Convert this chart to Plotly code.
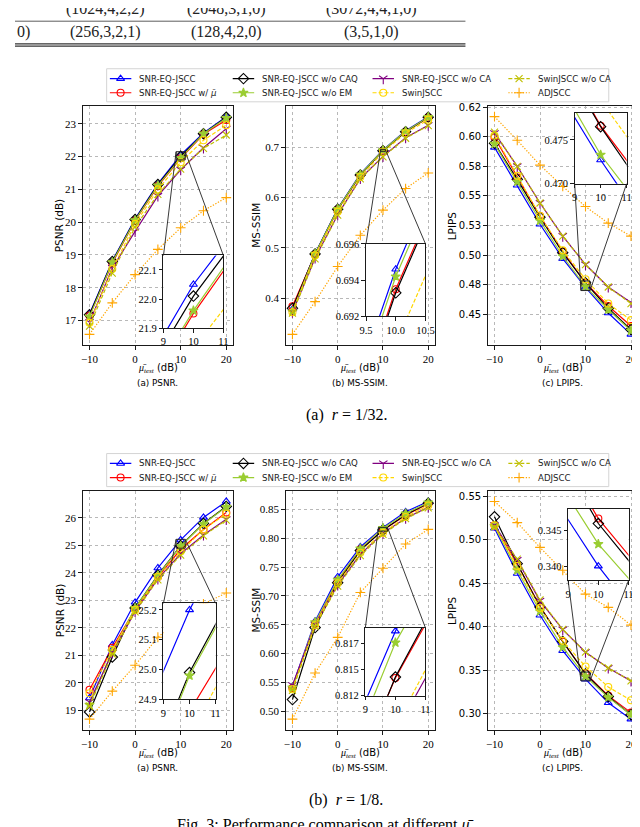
import plotly.graph_objects as go

W, H = 640, 827

# ---------------- data ----------------
snr_db = [-10, -5, 0, 5, 10, 15, 20]

series_keys = ["snreq", "snreq_mu", "wo_caq", "wo_em", "wo_ca", "swin", "swin_wo_ca", "adjscc"]
series_labels = ["SNR-EQ-JSCC", "SNR-EQ-JSCC w/ <i>μ̄</i>", "SNR-EQ-JSCC w/o CAQ", "SNR-EQ-JSCC w/o EM",
                 "SNR-EQ-JSCC w/o CA", "SwinJSCC", "SwinJSCC w/o CA", "ADJSCC"]

# r = 1/32
psnr_r32 = {
    "snreq":      [17.20, 18.82, 20.10, 21.17, 22.05, 22.72, 23.22],
    "snreq_mu":   [17.15, 18.75, 20.05, 21.10, 21.95, 22.68, 23.12],
    "wo_caq":     [17.18, 18.80, 20.08, 21.15, 22.01, 22.70, 23.20],
    "wo_em":      [17.12, 18.78, 20.06, 21.12, 21.96, 22.70, 23.18],
    "wo_ca":      [16.95, 18.60, 19.72, 20.80, 21.60, 22.27, 22.85],
    "swin":       [16.93, 18.57, 19.95, 21.00, 21.83, 22.50, 22.96],
    "swin_wo_ca": [16.83, 18.45, 19.85, 20.85, 21.62, 22.25, 22.66],
    "adjscc":     [16.58, 17.54, 18.40, 19.17, 19.83, 20.35, 20.75],
}
msssim_r32 = {
    "snreq":      [0.378, 0.489, 0.578, 0.647, 0.6946, 0.733, 0.761],
    "snreq_mu":   [0.384, 0.487, 0.576, 0.645, 0.6935, 0.731, 0.759],
    "wo_caq":     [0.380, 0.488, 0.577, 0.645, 0.6933, 0.731, 0.760],
    "wo_em":      [0.374, 0.488, 0.577, 0.646, 0.6942, 0.732, 0.760],
    "wo_ca":      [0.372, 0.480, 0.566, 0.638, 0.682, 0.719, 0.744],
    "swin":       [0.372, 0.485, 0.572, 0.641, 0.6905, 0.728, 0.755],
    "swin_wo_ca": [0.370, 0.478, 0.565, 0.637, 0.681, 0.718, 0.743],
    "adjscc":     [0.328, 0.393, 0.463, 0.525, 0.575, 0.618, 0.649],
}
lpips_r32 = {
    "snreq":      [0.591, 0.559, 0.526, 0.497, 0.4727, 0.451, 0.433],
    "snreq_mu":   [0.5994, 0.5656, 0.533, 0.503, 0.4766, 0.457, 0.440],
    "wo_caq":     [0.5944, 0.564, 0.532, 0.502, 0.4765, 0.455, 0.437],
    "wo_em":      [0.594, 0.562, 0.529, 0.499, 0.4733, 0.454, 0.436],
    "wo_ca":      [0.603, 0.575, 0.544, 0.516, 0.492, 0.473, 0.460],
    "swin":       [0.601, 0.567, 0.533, 0.504, 0.4795, 0.459, 0.445],
    "swin_wo_ca": [0.604, 0.575, 0.544, 0.516, 0.492, 0.473, 0.459],
    "adjscc":     [0.617, 0.597, 0.576, 0.558, 0.541, 0.527, 0.516],
}
# r = 1/8
psnr_r8 = {
    "snreq":      [19.45, 21.38, 22.93, 24.18, 25.20, 26.02, 26.60],
    "snreq_mu":   [19.75, 21.28, 22.68, 23.85, 24.86, 25.58, 26.20],
    "wo_caq":     [18.94, 20.94, 22.72, 23.92, 24.99, 25.80, 26.42],
    "wo_em":      [19.20, 21.15, 22.72, 23.90, 24.98, 25.78, 26.40],
    "wo_ca":      [19.30, 21.10, 22.60, 23.78, 24.70, 25.38, 25.95],
    "swin":       [19.62, 21.20, 22.65, 23.85, 24.78, 25.58, 26.15],
    "swin_wo_ca": [19.15, 21.05, 22.58, 23.75, 24.65, 25.35, 25.92],
    "adjscc":     [18.68, 19.70, 20.64, 21.66, 22.35, 22.87, 23.27],
}
msssim_r8 = {
    "snreq":      [0.543, 0.656, 0.733, 0.785, 0.8187, 0.846, 0.864],
    "snreq_mu":   [0.540, 0.652, 0.726, 0.781, 0.8142, 0.840, 0.860],
    "wo_caq":     [0.520, 0.645, 0.723, 0.779, 0.8143, 0.841, 0.861],
    "wo_em":      [0.541, 0.654, 0.728, 0.782, 0.8176, 0.843, 0.862],
    "wo_ca":      [0.545, 0.650, 0.719, 0.772, 0.809, 0.835, 0.854],
    "swin":       [0.538, 0.649, 0.722, 0.775, 0.8095, 0.837, 0.857],
    "swin_wo_ca": [0.536, 0.647, 0.717, 0.770, 0.807, 0.834, 0.853],
    "adjscc":     [0.486, 0.566, 0.628, 0.706, 0.748, 0.790, 0.8155],
}
lpips_r8 = {
    "snreq":      [0.5135, 0.4614, 0.4135, 0.3727, 0.3400, 0.3128, 0.2940],
    "snreq_mu":   [0.517, 0.472, 0.4237, 0.3830, 0.3467, 0.3210, 0.3015],
    "wo_caq":     [0.5266, 0.4727, 0.4230, 0.3834, 0.3460, 0.3200, 0.2990],
    "wo_em":      [0.516, 0.4652, 0.418, 0.3766, 0.3431, 0.3190, 0.2990],
    "wo_ca":      [0.517, 0.477, 0.430, 0.397, 0.371, 0.3528, 0.3380],
    "swin":       [0.5168, 0.470, 0.4218, 0.384, 0.3546, 0.331, 0.3158],
    "swin_wo_ca": [0.515, 0.478, 0.4312, 0.3973, 0.371, 0.3528, 0.3380],
    "adjscc":     [0.5443, 0.520, 0.4915, 0.4652, 0.4377, 0.4225, 0.4021],
}

# tick labels
x_ticks = [-10, 0, 10, 20]
psnr_r32_ticks = [17, 18, 19, 20, 21, 22, 23]
msssim_r32_ticks = [0.4, 0.5, 0.6, 0.7]
msssim_r32_text = ["0.4", "0.5", "0.6", "0.7"]
lpips_r32_ticks = [0.45, 0.475, 0.5, 0.525, 0.55, 0.575, 0.6, 0.625]
lpips_r32_text = ["0.45", "0.48", "0.50", "0.53", "0.55", "0.58", "0.60", "0.62"]
psnr_r8_ticks = [19, 20, 21, 22, 23, 24, 25, 26, 27]
msssim_r8_ticks = [0.50, 0.55, 0.60, 0.65, 0.70, 0.75, 0.80, 0.85]
msssim_r8_text = ["0.50", "0.55", "0.60", "0.65", "0.70", "0.75", "0.80", "0.85"]
lpips_r8_ticks = [0.30, 0.35, 0.40, 0.45, 0.50, 0.55]
lpips_r8_text = ["0.30", "0.35", "0.40", "0.45", "0.50", "0.55"]

# zoomed windows (inset axis limits) and their tick labels
inset_x_range = [[(9, 11), (9.5, 10.5), (9, 11)], [(9, 11), (9, 11), (9, 11)]]
inset_y_range = [[(21.9, 22.15), (0.692, 0.696), (0.470, 0.4781)],
                 [(24.9, 25.222), (0.8125, 0.8190), (0.338, 0.3481)]]
inset_x_ticks = [[[9, 10, 11], [9.5, 10.0, 10.5], [9, 10, 11]], [[9, 10, 11]] * 3]
inset_x_text = [[["9", "10", "11"], ["9.5", "10.0", "10.5"], ["9", "10", "11"]], [["9", "10", "11"]] * 3]
inset_y_ticks = [[[21.9, 22.0, 22.1], [0.692, 0.694, 0.696], [0.470, 0.475]],
                 [[24.9, 25.0, 25.1, 25.2], [0.8125, 0.815, 0.8175], [0.340, 0.345]]]
inset_y_text = [[["21.9", "22.0", "22.1"], ["0.692", "0.694", "0.696"], ["0.470", "0.475"]],
                [["24.9", "25.0", "25.1", "25.2"], ["0.812", "0.815", "0.817"], ["0.340", "0.345"]]]

table_row_text = ["0)", "(256,3,2,1)", "(128,4,2,0)", "(3,5,1,0)"]
table_prev_text = ["(1024,4,2,2)", "(2048,3,1,0)", "(3072,4,4,1,0)"]

# ---------------- styles ----------------
styles = {
    "snreq":      dict(color="#0000ff", symbol="triangle-up-open", dash="solid", size=7),
    "snreq_mu":   dict(color="#ff0000", symbol="circle-open", dash="solid", size=7),
    "wo_caq":     dict(color="#000000", symbol="diamond-open", dash="solid", size=8),
    "wo_em":      dict(color="#9acd32", symbol="star", dash="solid", size=7),
    "wo_ca":      dict(color="#800080", symbol="y-down-open", dash="solid", size=7),
    "swin":       dict(color="#ffd700", symbol="circle-open", dash="4px,2px", size=7),
    "swin_wo_ca": dict(color="#bfbf00", symbol="x-thin-open", dash="4px,2px", size=7),
    "adjscc":     dict(color="#ffa500", symbol="cross-thin-open", dash="1.3px,1.6px", size=7),
}

SERIF = "Liberation Serif"
SANS = "DejaVu Sans"

COLS = [(69.4, 223.7), (277.6, 430.8), (484.8, 638.8)]
ROWS = [(94.0, 336.7), (484.0, 726.7)]
INSETS = [[(152.3, 213.7, 245.7, 319.3), (360.0, 421.0, 234.0, 307.5), (574.0, 627.3, 101.0, 173.0)],
          [(152.3, 205.7, 598.3, 695.7), (359.3, 421.0, 623.3, 692.0), (567.3, 629.3, 502.3, 575.0)]]
X_RANGE = [-11.5, 21.5]

panels = [[psnr_r32, msssim_r32, lpips_r32], [psnr_r8, msssim_r8, lpips_r8]]
yticks = [[(psnr_r32_ticks, [str(v) for v in psnr_r32_ticks]), (msssim_r32_ticks, msssim_r32_text),
           (lpips_r32_ticks, lpips_r32_text)],
          [(psnr_r8_ticks, [str(v) for v in psnr_r8_ticks]), (msssim_r8_ticks, msssim_r8_text),
           (lpips_r8_ticks, lpips_r8_text)]]
ytitles = ["PSNR (dB)", "MS-SSIM", "LPIPS"]
subcaps = ["(a) PSNR.", "(b) MS-SSIM.", "(c) LPIPS."]

fig = go.Figure()
layout = {}
shapes = []
annotations = []


def pfx(px):
    return px / W


def pfy(py):
    return 1 - py / H


def axis_common(grid):
    return dict(showline=True, linecolor="#1a1a1a", linewidth=1.1, mirror=True, ticks="outside",
                ticklen=3.5, tickwidth=0.8, tickcolor="#1a1a1a", zeroline=False, showgrid=grid,
                gridcolor="#b8b8b8", gridwidth=0.8, griddash="dot", fixedrange=True)


def add_axes(idx, xpx, ypx, xr, yr, xt, xtt, yt, ytt, xfont, yfont, grid):
    key = "" if idx == 1 else str(idx)
    xa = axis_common(grid)
    xa.update(domain=[pfx(xpx[0]), pfx(xpx[1])], range=list(xr), anchor="y" + key,
              tickmode="array", tickvals=xt, ticktext=xtt, tickfont=xfont)
    ya = axis_common(grid)
    ya.update(domain=[pfy(ypx[1]), pfy(ypx[0])], range=list(yr), anchor="x" + key,
              tickmode="array", tickvals=yt, ticktext=ytt, tickfont=yfont)
    layout["xaxis" + key] = xa
    layout["yaxis" + key] = ya
    return "x" + key, "y" + key


def add_series(data, xref, yref):
    for k in series_keys:
        st = styles[k]
        fig.add_trace(go.Scatter(
            x=snr_db, y=data[k], xaxis=xref, yaxis=yref, mode="lines+markers",
            line=dict(color=st["color"], width=1.2, dash=st["dash"]),
            marker=dict(symbol=st["symbol"], size=st["size"], color=st["color"],
                        line=dict(color=st["color"], width=1.1)),
            showlegend=False, hoverinfo="skip"))


def to_px(v, r, p0, p1, invert=False):
    f = (v - r[0]) / (r[1] - r[0])
    return (p1 - f * (p1 - p0)) if invert else (p0 + f * (p1 - p0))


serif_tick = dict(family=SERIF, size=11, color="black")
sans_tick = dict(family=SANS, size=10, color="black")
inset_tick = dict(family=SERIF, size=10.5, color="black")

# main axes
idx = 0
main_refs = {}
main_yr = {}
for r in range(2):
    for c in range(3):
        idx += 1
        data = panels[r][c]
        allv = [v for k in series_keys for v in data[k]]
        lo, hi = min(allv), max(allv)
        pad = 0.05 * (hi - lo)
        yr = (lo - pad, hi + pad)
        main_yr[(r, c)] = yr
        yt, ytt = yticks[r][c]
        xr_, yr_ = add_axes(idx, COLS[c], ROWS[r], X_RANGE, yr, x_ticks, [str(v).replace("-", "−") for v in x_ticks],
                            yt, ytt, serif_tick, sans_tick if c == 2 else serif_tick, True)
        main_refs[(r, c)] = (xr_, yr_)
        add_series(data, xr_, yr_)

# insets
for r in range(2):
    for c in range(3):
        idx += 1
        ix0, ix1, iy0, iy1 = INSETS[r][c]
        xr = inset_x_range[r][c]
        yr = inset_y_range[r][c]
        xref, yref = add_axes(idx, (ix0, ix1), (iy0, iy1), xr, yr, inset_x_ticks[r][c], inset_x_text[r][c],
                              inset_y_ticks[r][c], inset_y_text[r][c], inset_tick, inset_tick, False)
        add_series(panels[r][c], xref, yref)
        # zoom rectangle on main axes
        mx, my = main_refs[(r, c)]
        shapes.append(dict(type="rect", xref=mx, yref=my, x0=xr[0], x1=xr[1], y0=yr[0], y1=yr[1],
                           line=dict(color="#222222", width=1), layer="above"))
        # connectors
        (cx0, cx1), (ry0, ry1) = COLS[c], ROWS[r]
        myr = main_yr[(r, c)]
        rx0 = to_px(xr[0], X_RANGE, cx0, cx1)
        rx1 = to_px(xr[1], X_RANGE, cx0, cx1)
        r_top = to_px(yr[1], myr, ry0, ry1, invert=True)
        r_bot = to_px(yr[0], myr, ry0, ry1, invert=True)
        if c < 2:
            pairs = [((rx0, r_top), (ix0, iy0)), ((rx1, r_top), (ix1, iy0))]
        else:
            pairs = [((rx0, r_bot), (ix0, iy1)), ((rx1, r_bot), (ix1, iy1))]
        for (a, b) in pairs:
            shapes.append(dict(type="line", xref="paper", yref="paper", x0=pfx(a[0]), y0=pfy(a[1]),
                               x1=pfx(b[0]), y1=pfy(b[1]), line=dict(color="#222222", width=0.9),
                               layer="above"))

# legends (drawn manually, matplotlib-like compact 4x2 layout)
LEG_BOX = [(94.0, 56.5, 609.0, 90.0), (94.0, 446.5, 609.0, 480.0)]
LEG_ROWS = [(66.5, 80.8), (456.5, 470.8)]
LEG_COLS = [97.3, 223.3, 366.7, 506.0]
LEG_ORDER = [["snreq", "snreq_mu"], ["wo_caq", "wo_em"], ["wo_ca", "swin"], ["swin_wo_ca", "adjscc"]]
for li in range(2):
    idx += 1
    bx0, by0, bx1, by1 = LEG_BOX[li]
    key = str(idx)
    layout["xaxis" + key] = dict(domain=[pfx(bx0), pfx(bx1)], range=[bx0, bx1], visible=False,
                                 anchor="y" + key, fixedrange=True)
    layout["yaxis" + key] = dict(domain=[pfy(by1), pfy(by0)], range=[by1, by0], visible=False,
                                 anchor="x" + key, fixedrange=True)
    shapes.append(dict(type="rect", xref="paper", yref="paper", x0=pfx(bx0), x1=pfx(bx1), y0=pfy(by1),
                       y1=pfy(by0), line=dict(color="#d4d4d4", width=1), fillcolor="rgba(255,255,255,0)",
                       layer="below"))
    for ci, col in enumerate(LEG_ORDER):
        for ri, k in enumerate(col):
            st = styles[k]
            y = LEG_ROWS[li][ri]
            x0 = LEG_COLS[ci]
            fig.add_trace(go.Scatter(x=[x0, x0 + 22], y=[y, y], xaxis="x" + key, yaxis="y" + key,
                                     mode="lines", line=dict(color=st["color"], width=1.2, dash=st["dash"]),
                                     showlegend=False, hoverinfo="skip"))
            fig.add_trace(go.Scatter(x=[x0 + 11], y=[y], xaxis="x" + key, yaxis="y" + key, mode="markers",
                                     marker=dict(symbol=st["symbol"], size=st["size"], color=st["color"],
                                                 line=dict(color=st["color"], width=1.1)),
                                     showlegend=False, hoverinfo="skip"))
            annotations.append(dict(text=series_labels[series_keys.index(k)], xref="paper", yref="paper",
                                    x=pfx(x0 + 28), y=pfy(y), xanchor="left", yanchor="middle",
                                    showarrow=False, font=dict(family=SANS, size=8.6, color="#222222")))

# axis titles and subcaptions
XT_Y = [359.8, 750.3]
SUB_Y = [374.5, 765.0]
YT_X = [46.0, 247.5, 449.0]
for r in range(2):
    for c in range(3):
        cx = (COLS[c][0] + COLS[c][1]) / 2
        annotations.append(dict(text="<span style='font-family:Liberation Serif'><i>μ̄</i><sub><i>test</i></sub></span> (dB)",
                                xref="paper", yref="paper", x=pfx(cx), y=pfy(XT_Y[r]), xanchor="center",
                                yanchor="middle", showarrow=False, font=dict(family=SANS, size=10, color="black")))
        annotations.append(dict(text=subcaps[c], xref="paper", yref="paper", x=pfx(cx), y=pfy(SUB_Y[r]),
                                xanchor="center", yanchor="middle", showarrow=False,
                                font=dict(family=SANS, size=8.8, color="black")))
        annotations.append(dict(text=ytitles[c], xref="paper", yref="paper", x=pfx(YT_X[c]),
                                y=pfy((ROWS[r][0] + ROWS[r][1]) / 2), textangle=-90, xanchor="center",
                                yanchor="middle", showarrow=False, font=dict(family=SANS, size=10.5, color="black")))

annotations.append(dict(text="(a)  <i>r</i> = 1/32.", xref="paper", yref="paper", x=pfx(340), y=pfy(407),
                        xanchor="center", yanchor="middle", showarrow=False,
                        font=dict(family=SERIF, size=16, color="black")))
annotations.append(dict(text="(b)  <i>r</i> = 1/8.", xref="paper", yref="paper", x=pfx(339), y=pfy(797.5),
                        xanchor="center", yanchor="middle", showarrow=False,
                        font=dict(family=SERIF, size=16, color="black")))
annotations.append(dict(text="Fig. 3: Performance comparison at different <i>μ̄</i>", xref="paper", yref="paper",
                        x=pfx(318), y=pfy(823), xanchor="center", yanchor="middle", showarrow=False,
                        font=dict(family=SERIF, size=16, color="black")))

# table fragment at top
TAB_X = [0, 93, 217, 366]
for i, t in enumerate(table_row_text):
    annotations.append(dict(text=t, xref="paper", yref="paper", x=pfx(TAB_X[i]), y=pfy(19.5),
                            xanchor="left" if i == 0 else "center", yanchor="middle", showarrow=False,
                            font=dict(family=SERIF, size=16, color="#222222")))
for i, t in enumerate(table_prev_text):
    annotations.append(dict(text=t, xref="paper", yref="paper", x=pfx(TAB_X[i + 1]), y=pfy(-4.5),
                            xanchor="center", yanchor="middle", showarrow=False,
                            font=dict(family=SERIF, size=16, color="#222222")))
for yy, wdt in [(8.3, 0.8), (31.2, 1.2), (33.6, 1.2)]:
    shapes.append(dict(type="line", xref="paper", yref="paper", x0=0, x1=pfx(462), y0=pfy(yy), y1=pfy(yy),
                       line=dict(color="#333333", width=wdt)))

layout.update(width=W, height=H, margin=dict(l=0, r=0, t=0, b=0), paper_bgcolor="white",
              plot_bgcolor="white", showlegend=False, shapes=shapes, annotations=annotations)
fig.update_layout(**layout)
fig.write_html("out.html")
